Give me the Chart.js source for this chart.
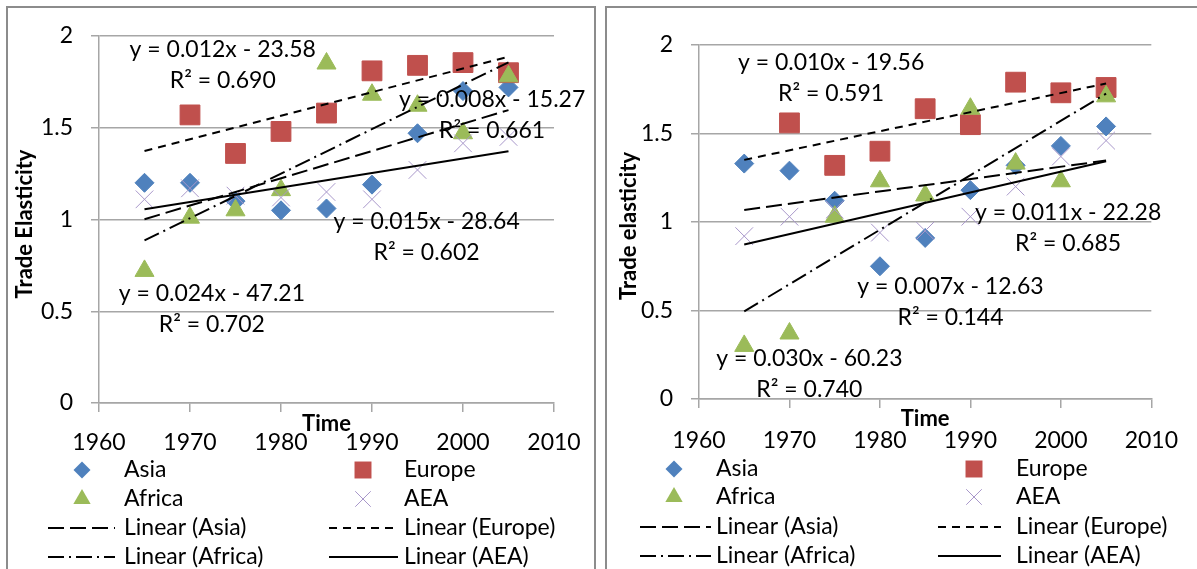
<!DOCTYPE html>
<html>
<head>
<meta charset="utf-8">
<script src="https://cdn.jsdelivr.net/npm/chart.js@4.4.0/dist/chart.umd.min.js"></script>
<style>
  body { margin: 0; background: #fff; width: 1197px; height: 569px; overflow: hidden; position: relative; }
  canvas { position: absolute; top: 0; }
  .frame { position: absolute; top: 6px; height: 620px; border: 2px solid #8c8c8c; box-sizing: border-box; }
</style>
</head>
<body>
<canvas id="leftChart" width="600" height="569" style="left:0"></canvas>
<canvas id="rightChart" width="597" height="569" style="left:600px"></canvas>
<div class="frame" style="left:6px;width:590px"></div>
<div class="frame" style="left:605px;width:600px"></div>
<script>
var years = [1965, 1970, 1975, 1980, 1985, 1990, 1995, 2000, 2005];
var seriesNames = ['Asia', 'Europe', 'Africa', 'AEA'];
var xTicks = [1960, 1970, 1980, 1990, 2000, 2010];
var yTicks = [0, 0.5, 1, 1.5, 2];

// left panel
var asiaL = [1.20, 1.20, 1.10, 1.05, 1.06, 1.19, 1.47, 1.70, 1.72];
var europeL = [null, 1.57, 1.36, 1.48, 1.58, 1.81, 1.84, 1.855, 1.80];
var africaL = [0.72, 1.01, 1.05, 1.16, 1.85, 1.68, 1.62, 1.47, 1.78];
var aeaL = [1.11, 1.17, 1.13, 1.12, 1.15, 1.11, 1.27, 1.415, 1.45];

// right panel
var asiaR = [1.33, 1.29, 1.12, 0.75, 0.91, 1.18, 1.32, 1.43, 1.54];
var europeR = [null, 1.56, 1.32, 1.40, 1.64, 1.55, 1.79, 1.73, 1.76];
var africaR = [0.30, 0.37, 1.03, 1.23, 1.15, 1.64, 1.33, 1.23, 1.71];
var aeaR = [0.92, 1.03, 1.07, 0.94, 0.95, 1.03, 1.20, 1.37, 1.46];

var eqLeft = [
  ['y = 0.012x - 23.58', 'R\u00b2 = 0.690'],
  ['y = 0.008x - 15.27', 'R\u00b2 = 0.661'],
  ['y = 0.015x - 28.64', 'R\u00b2 = 0.602'],
  ['y = 0.024x - 47.21', 'R\u00b2 = 0.702']
];
var eqRight = [
  ['y = 0.010x - 19.56', 'R\u00b2 = 0.591'],
  ['y = 0.011x - 22.28', 'R\u00b2 = 0.685'],
  ['y = 0.007x - 12.63', 'R\u00b2 = 0.144'],
  ['y = 0.030x - 60.23', 'R\u00b2 = 0.740']
];
// where each equation label sits (year, elasticity)
var eqPosLeft = [[1973.6, 1.924], [2003.2, 1.651], [1996.0, 0.986], [1972.4, 0.599]];
var eqPosRight = [[1974.6, 1.898], [2000.8, 1.051], [1987.8, 0.633], [1972.2, 0.226]];

var markers = [
  { style: 'rectRot', color: '#4F81BD', r: 9.5, lr: 8.5 },
  { style: 'rect', color: '#C0504D', r: 14, lr: 12 },
  { style: 'triangle', color: '#9BBB59', r: 11, lr: 10 },
  { style: 'crossRot', color: '#A897CA', r: 12.5, lr: 11 }
];
var trendDash = [[16, 6], [8, 6], [16, 5, 2, 5], []];
var gridColor = '#a6a6a6';
var textFont = '23px Lato';

// least squares line over the points that exist, drawn across the full year range
function trendLine(vals) {
  var n = 0, sx = 0, sy = 0, sxx = 0, sxy = 0;
  years.forEach(function(x, i) {
    if (vals[i] === null) return;
    n++; sx += x; sy += vals[i]; sxx += x * x; sxy += x * vals[i];
  });
  var b = (n * sxy - sx * sy) / (n * sxx - sx * sx);
  var a = (sy - b * sx) / n;
  var x0 = years[0], x1 = years[years.length - 1];
  return [{ x: x0, y: a + b * x0 }, { x: x1, y: a + b * x1 }];
}

function drawMarker(ctx, m, x, y) {
  var r = m.lr;
  ctx.beginPath();
  if (m.style === 'rectRot') {
    ctx.moveTo(x, y - r); ctx.lineTo(x + r, y); ctx.lineTo(x, y + r); ctx.lineTo(x - r, y);
  } else if (m.style === 'rect') {
    var s = r * Math.SQRT1_2;
    ctx.rect(x - s, y - s, 2 * s, 2 * s);
  } else if (m.style === 'triangle') {
    ctx.moveTo(x, y - r); ctx.lineTo(x + r * 0.866, y + r / 2); ctx.lineTo(x - r * 0.866, y + r / 2);
  } else {
    var d = r * Math.SQRT1_2;
    ctx.moveTo(x - d, y - d); ctx.lineTo(x + d, y + d);
    ctx.moveTo(x + d, y - d); ctx.lineTo(x - d, y + d);
    ctx.strokeStyle = m.color; ctx.lineWidth = 1; ctx.stroke();
    return;
  }
  ctx.closePath();
  ctx.fillStyle = m.color;
  ctx.fill();
}

function extrasPlugin(cfg) {
  return {
    id: 'extras',
    afterDraw: function(chart) {
      var ctx = chart.ctx, area = chart.chartArea;
      var sx = chart.scales.x, sy = chart.scales.y;
      ctx.save();
      ctx.fillStyle = '#000';
      ctx.textBaseline = 'middle';
      ctx.textAlign = 'center';

      // axis titles
      ctx.font = 'bold 22px Lato';
      ctx.fillText('Time', (area.left + area.right) / 2, area.bottom + cfg.timeGap);
      ctx.save();
      ctx.translate(cfg.yTitleX, cfg.yTitleY);
      ctx.rotate(-Math.PI / 2);
      ctx.fillText(cfg.yTitle, 0, 0);
      ctx.restore();

      // trendline equations
      ctx.font = textFont;
      cfg.eqText.forEach(function(lines, i) {
        var px = sx.getPixelForValue(cfg.eqPos[i][0]);
        var py = sy.getPixelForValue(cfg.eqPos[i][1]);
        ctx.fillText(lines[0], px, py);
        ctx.fillText(lines[1], px, py + 31);
      });

      // legend, two columns
      ctx.textAlign = 'left';
      chart.data.datasets.forEach(function(ds, i) {
        var row = Math.floor(i / 2), col = cfg.cols[i % 2];
        var y = cfg.rows[row];
        if (i < 4) {
          drawMarker(ctx, markers[i], col.marker, y);
        } else {
          ctx.beginPath();
          ctx.setLineDash(trendDash[i - 4]);
          ctx.strokeStyle = '#000';
          ctx.lineWidth = 2;
          ctx.moveTo(col.line[0], y);
          ctx.lineTo(col.line[1], y);
          ctx.stroke();
          ctx.setLineDash([]);
        }
        ctx.fillStyle = '#000';
        ctx.fillText(ds.label, col.text, y);
      });
      ctx.restore();
    }
  };
}

function buildChart(id, vals, cfg) {
  var datasets = [];
  vals.forEach(function(v, i) {
    var pts = [];
    years.forEach(function(yr, k) {
      if (v[k] !== null) pts.push({ x: yr, y: v[k] });
    });
    datasets.push({
      label: seriesNames[i],
      data: pts,
      showLine: false,
      pointStyle: markers[i].style,
      pointRadius: markers[i].r,
      backgroundColor: markers[i].color,
      borderColor: markers[i].color,
      pointBorderWidth: 1,
      order: 10 - i
    });
  });
  vals.forEach(function(v, i) {
    datasets.push({
      label: 'Linear (' + seriesNames[i] + ')',
      data: trendLine(v),
      showLine: true,
      borderColor: '#000',
      borderWidth: 2,
      borderDash: trendDash[i],
      pointRadius: 0,
      fill: false,
      order: 0
    });
  });

  var tickFont = { family: 'Lato', size: 23 };
  return new Chart(document.getElementById(id), {
    type: 'scatter',
    data: { datasets: datasets },
    options: {
      responsive: false,
      animation: false,
      layout: { padding: { left: 0, top: cfg.top, right: cfg.right, bottom: 0 } },
      plugins: { legend: { display: false }, tooltip: { enabled: false } },
      scales: {
        x: {
          type: 'linear',
          min: xTicks[0],
          max: xTicks[xTicks.length - 1],
          afterBuildTicks: function(scale) { scale.ticks = xTicks.map(function(v) { return { value: v }; }); },
          afterFit: function(scale) { scale.height = cfg.xAxisH; },
          ticks: { font: tickFont, color: '#000', padding: cfg.xPad, callback: function(v) { return String(v); } },
          grid: { drawOnChartArea: false, color: gridColor, lineWidth: 1.5, tickLength: 9 },
          border: { color: gridColor, width: 1.5 }
        },
        y: {
          min: yTicks[0],
          max: yTicks[yTicks.length - 1],
          afterBuildTicks: function(scale) { scale.ticks = yTicks.map(function(v) { return { value: v }; }); },
          afterFit: function(scale) { scale.width = 99; },
          ticks: { font: tickFont, color: '#000', padding: 18, callback: function(v) { return String(v); } },
          grid: { color: gridColor, lineWidth: 1.5, tickLength: 8 },
          border: { color: gridColor, width: 1.5 }
        }
      }
    },
    plugins: [extrasPlugin(cfg)]
  });
}

buildChart('leftChart', [asiaL, europeL, africaL, aeaL], {
  top: 36, right: 46, xAxisH: 166, xPad: 17,
  timeGap: 21, yTitle: 'Trade Elasticity', yTitleX: 25, yTitleY: 224,
  eqText: eqLeft, eqPos: eqPosLeft,
  rows: [470, 499, 528, 557],
  cols: [{ marker: 82, text: 124, line: [48, 115] }, { marker: 363, text: 404, line: [329, 398] }]
});

buildChart('rightChart', [asiaR, europeR, africaR, aeaR], {
  top: 45, right: 40, xAxisH: 170, xPad: 19,
  timeGap: 20, yTitle: 'Trade elasticity', yTitleX: 29, yTitleY: 226,
  eqText: eqRight, eqPos: eqPosRight,
  rows: [469, 497, 527, 556],
  cols: [{ marker: 74, text: 116, line: [40, 111] }, { marker: 374, text: 416, line: [338, 401] }]
});
</script>
</body>
</html>
